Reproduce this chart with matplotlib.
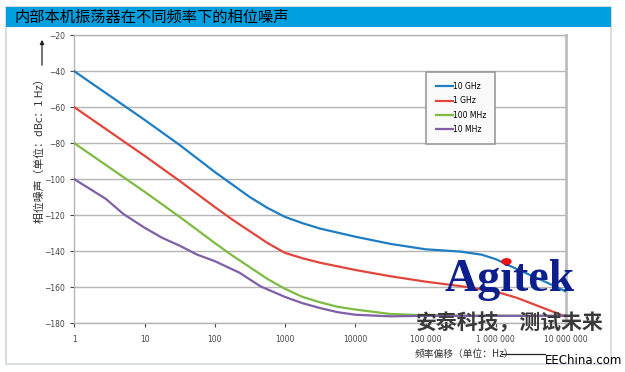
import numpy as np
import matplotlib
matplotlib.use("Agg")
import matplotlib.pyplot as plt
from matplotlib.patches import Rectangle

plt.rcParams['font.family'] = ['Noto Sans CJK SC', 'DejaVu Sans']

# === Dados (log10 da frequência, dBc/Hz) ===
logf_10ghz = [0, 0.5, 1, 1.5, 2, 2.25, 2.5, 2.75, 3, 3.25, 3.5, 4, 4.5, 5, 5.5, 5.8, 6, 6.3, 6.7, 7]
pn_10ghz = [-40, -53.5, -67, -81, -96, -103, -110, -116, -121, -124.5, -127.5, -132, -136, -139, -140.3, -142, -144.5, -150, -157, -162.5]

logf_1ghz = [0, 0.5, 1, 1.5, 2, 2.25, 2.5, 2.75, 3, 3.25, 3.5, 4, 4.5, 5, 5.5, 6, 6.3, 6.7, 7]
pn_1ghz = [-60, -73.5, -87, -101, -115.5, -122.5, -129, -135.5, -141, -144, -146.5, -150.5, -154, -157, -159.5, -162.5, -166, -172, -176.5]

logf_100mhz = [0, 0.5, 1, 1.5, 2, 2.25, 2.5, 2.75, 3, 3.25, 3.5, 3.75, 4, 4.5, 5, 5.5, 6, 7]
pn_100mhz = [-80, -93.5, -107, -121, -135.5, -142.5, -149, -155.5, -161, -165.5, -168.5, -171, -172.5, -175, -175.7, -176, -176, -176]

logf_10mhz = [0, 0.45, 0.7, 1, 1.25, 1.5, 1.75, 2, 2.35, 2.65, 3, 3.25, 3.5, 3.75, 4, 4.5, 5, 6, 7]
pn_10mhz = [-100, -111, -119.4, -127, -132.6, -137, -142, -145.6, -152, -159.6, -165.5, -169, -171.7, -174, -175.4, -176.3, -176, -176, -176]

series = [
    ("10 GHz", logf_10ghz, pn_10ghz, "#1f7dc2"),
    ("1 GHz", logf_1ghz, pn_1ghz, "#e2453b"),
    ("100 MHz", logf_100mhz, pn_100mhz, "#7dbb42"),
    ("10 MHz", logf_10mhz, pn_10mhz, "#7e5fa8"),
]

yticks = [-20, -40, -60, -80, -100, -120, -140, -160, -180]
xtick_vals = [1, 10, 100, 1000, 10000, 100000, 1000000, 10000000]
xtick_labels = ["1", "10", "100", "1000", "10000", "100 000", "1 000 000", "10 000 000"]

# === Figura ===
fig = plt.figure(figsize=(6.25, 3.72), dpi=100)
W, H = 625, 372

def fx(px):
    return px / W

def fy(py):
    return 1 - py / H

# moldura externa e faixa de título
fig.patches.append(Rectangle((fx(6), fy(364)), fx(605), (364 - 7) / H, transform=fig.transFigure,
                             facecolor="white", edgecolor="#cfd8dc", lw=1.2, zorder=-10))
fig.patches.append(Rectangle((fx(6), fy(27)), fx(605), 20 / H, transform=fig.transFigure,
                             facecolor="#00a0e0", edgecolor="none", zorder=-9))
fig.text(fx(14), fy(17.5), "内部本机振荡器在不同频率下的相位噪声", fontsize=11,
         color="black", va="center", ha="left")

ax = fig.add_axes([fx(74.3), fy(323), fx(566 - 74.3), (323 - 35.3) / H])
ax.set_facecolor("none")
for name, lf, pn, cor in series:
    ax.plot(10 ** np.array(lf), pn, color=cor, lw=1.6, label=name, zorder=3)

ax.set_xscale("log")
ax.set_xlim(1, 1e7)
ax.set_ylim(-180, -20)
ax.set_yticks(yticks)
ax.set_yticklabels([f"\u2212{abs(v)}" for v in yticks])
ax.set_xticks(xtick_vals)
ax.set_xticklabels(xtick_labels)
ax.minorticks_off()
ax.tick_params(axis="both", labelsize=5.5, colors="#444444", length=3, width=0.8,
               labelfontfamily="DejaVu Sans")
ax.tick_params(axis="x", pad=6, colors="#444444")
ax.yaxis.grid(True, color="#b5b5b5", lw=1)
ax.set_axisbelow(True)
for s in ["left", "bottom", "top"]:
    ax.spines[s].set_color("#b5b5b5")
    ax.spines[s].set_linewidth(1)
ax.spines["right"].set_color("#bdbdbd")
ax.spines["right"].set_linewidth(2)

leg = ax.legend(loc="upper left", bbox_to_anchor=(0.715, 0.626, 0.141, 0.246), bbox_transform=ax.transAxes,
                mode="expand", frameon=True, fancybox=False, handlelength=2.2,
                handletextpad=0.1, labelspacing=0.7, borderaxespad=0, borderpad=1.3,
                prop={"family": "DejaVu Sans", "size": 5.5})
leg.get_frame().set_edgecolor("#9a9a9a")
leg.get_frame().set_linewidth(1.2)
leg.get_frame().set_facecolor("#fafafa")
leg.get_frame().set_alpha(1)

# rótulos dos eixos
fig.text(fx(40), fy(148), "相位噪声（单位：dBc：1 Hz）", rotation=90, fontsize=7.8,
         color="#333333", ha="center", va="center")
fig.add_artist(matplotlib.patches.FancyArrowPatch((fx(42), fy(68)), (fx(42), fy(37)),
               transform=fig.transFigure, arrowstyle="-|>", mutation_scale=6, color="#222222", lw=0.9))
fig.text(fx(464), fy(354), "频率偏移（单位：Hz）", fontsize=7, color="#333333", ha="center", va="center")
fig.add_artist(plt.Line2D([fx(502), fx(545)], [fy(354), fy(354)], transform=fig.transFigure,
                          color="#222222", lw=0.9))
fig.text(fx(584), fy(361), "EEChina.com", fontsize=8.5, color="black", ha="center", va="center",
         family="Liberation Sans Narrow")

# marca d'água
fig.text(fx(510), fy(280), "Agitek", fontsize=33, color="#0c1f8c", ha="center", va="center",
         family="Liberation Serif", fontweight="bold")
fig.add_artist(matplotlib.patches.Circle((fx(506.5), fy(261.5)), 4.5 / W, transform=fig.transFigure,
                                         color="#ee1111", zorder=10))
fig.text(fx(510), fy(323), "安泰科技，测试未来", fontsize=15, color="#3a3a3a", ha="center", va="center",
         fontweight="bold")

plt.savefig("out.png", dpi=100)
